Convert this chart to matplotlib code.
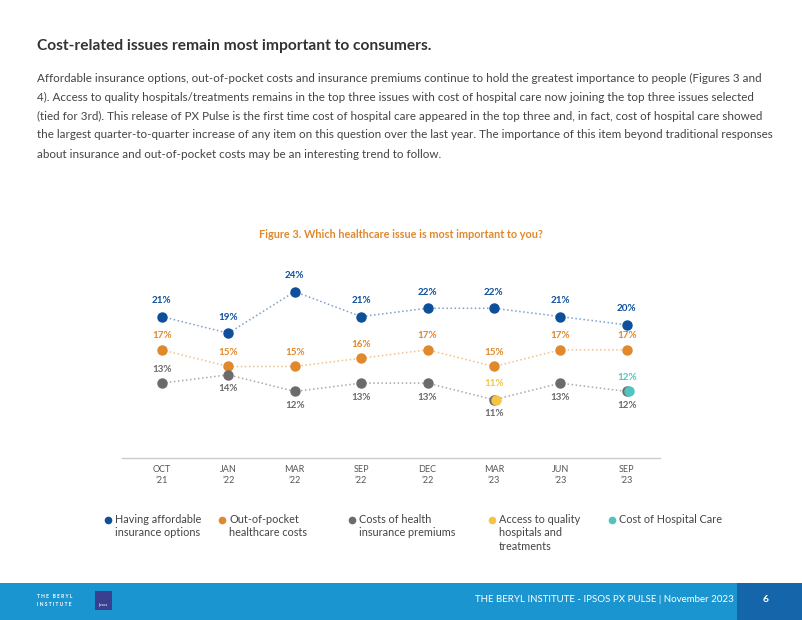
import numpy as np
import matplotlib
matplotlib.use("Agg")
import matplotlib.pyplot as plt
import matplotlib.transforms as mtransforms
from matplotlib.patches import Rectangle

plt.rcParams['font.family'] = ['Lato', 'DejaVu Sans']

periods = ["OCT\n’21", "JAN\n’22", "MAR\n’22", "SEP\n’22", "DEC\n’22", "MAR\n’23", "JUN\n’23", "SEP\n’23"]
affordable = [21, 19, 24, 21, 22, 22, 21, 20]
out_of_pocket = [17, 15, 15, 16, 17, 15, 17, 17]
premiums = [13, 14, 12, 13, 13, 11, 13, 12]
access = [np.nan, np.nan, np.nan, np.nan, np.nan, 11, np.nan, np.nan]
hospital = [np.nan, np.nan, np.nan, np.nan, np.nan, np.nan, np.nan, 12]

series_names = ["Having affordable\ninsurance options", "Out-of-pocket\nhealthcare costs",
                "Costs of health\ninsurance premiums", "Access to quality\nhospitals and\ntreatments",
                "Cost of Hospital Care"]

title = "Cost-related issues remain most important to consumers."
body = ["Affordable insurance options, out-of-pocket costs and insurance premiums continue to hold the greatest importance to people (Figures 3 and",
        "4). Access to quality hospitals/treatments remains in the top three issues with cost of hospital care now joining the top three issues selected",
        "(tied for 3rd). This release of PX Pulse is the first time cost of hospital care appeared in the top three and, in fact, cost of hospital care showed",
        "the largest quarter-to-quarter increase of any item on this question over the last year. The importance of this item beyond traditional responses",
        "about insurance and out-of-pocket costs may be an interesting trend to follow."]
fig_title = "Figure 3. Which healthcare issue is most important to you?"
footer = "THE BERYL INSTITUTE - IPSOS PX PULSE | November 2023"

BLUE = "#0d4f9a"
ORANGE = "#e0892c"
GREY = "#6b6b6e"
YELLOW = "#f6c445"
TEAL = "#52c4c0"

W, H = 802, 620
fig = plt.figure(figsize=(W / 100, H / 100), dpi=100)

# page layer in pixel coordinates
page = fig.add_axes([0, 0, 1, 1])
page.set_xlim(0, W)
page.set_ylim(H, 0)
page.axis("off")

page.text(37, 46, title, fontsize=11.2, fontweight="bold", color="#333333", va="center")
for i, line in enumerate(body):
    page.text(37, 78 + i * 19, line, fontsize=8.35, color="#444444", va="center")
page.text(401, 235, fig_title, fontsize=7.8, fontweight="bold", color=ORANGE, ha="center", va="center")

# footer band
page.add_patch(Rectangle((0, 583), W, 37, color="#1b95d0", lw=0))
page.add_patch(Rectangle((737, 583), W - 737, 37, color="#1465a9", lw=0))
page.text(734, 600, footer, fontsize=7, color="white", ha="right", va="center")
page.text(766, 600, "6", fontsize=7.5, fontweight="bold", color="white", ha="center", va="center")
page.text(37, 596, "T H E   B E R Y L", fontsize=3.6, fontweight="bold", color="white", va="center")
page.text(37, 604, "I N S T I T U T E", fontsize=3.6, fontweight="bold", color="white", va="center")
page.add_patch(Rectangle((95, 591), 17, 19, color="#3b3f8f", lw=0))
page.text(103.5, 605, "Ipsos", fontsize=3, color="white", ha="center", va="center")

# legend
leg_x = [108, 222, 352, 492, 612]
leg_colors = [BLUE, ORANGE, GREY, YELLOW, TEAL]
for x, name, c in zip(leg_x, series_names, leg_colors):
    page.plot(x, 520, "o", color=c, ms=4.5)
    page.text(x + 7, 514, name, fontsize=7.8, color="#444444", va="top", linespacing=1.25)

# chart
ax = fig.add_axes([122 / W, 1 - 458 / H, (660 - 122) / W, (458 - 270) / H])
ax.set_xlim(-0.6, 7.5)
ax.set_ylim(4.0, 26.6)
x = np.arange(len(periods))

lines = [(affordable, BLUE, "#7f9fcc"), (out_of_pocket, ORANGE, "#f0c08e"), (premiums, GREY, "#a9a9ab")]
for vals, c, lc in lines:
    ax.plot(x, vals, ":", color=lc, lw=1.1, zorder=1)
    ax.plot(x, vals, "o", color=c, ms=6.5, zorder=2)

# the single-point series sit a hair right of the grey dot they overlap
shift = ax.transData + mtransforms.ScaledTranslation(2.5 / 100, 0, fig.dpi_scale_trans)
ax.plot(x, access, "o", color=YELLOW, ms=6.5, zorder=3, transform=shift)
ax.plot(x, hospital, "o", color=TEAL, ms=6.5, zorder=3, transform=shift)


def label(xi, v, c, off):
    ax.annotate(f"{v:.0f}%", (xi, v), xytext=(0, off), textcoords="offset points",
                ha="center", va="center", fontsize=7.1, fontweight="bold", color=c)


for i in x:
    label(i, affordable[i], BLUE, 11.5)
    label(i, out_of_pocket[i], ORANGE, 10)
    label(i, premiums[i], GREY, 10 if i == 0 else -10)
label(5, access[5], YELLOW, 11.5)
label(7, hospital[7], TEAL, 10)

ax.set_xticks(x)
ax.set_xticklabels(periods, fontsize=6.5, color="#555555", linespacing=1.3)
ax.tick_params(axis="x", length=0, pad=5)
ax.set_yticks([])
for s in ["top", "left", "right"]:
    ax.spines[s].set_visible(False)
ax.spines["bottom"].set_color("#cccccc")
ax.spines["bottom"].set_linewidth(1)
ax.patch.set_alpha(0)

fig.savefig("out.png", dpi=100)
